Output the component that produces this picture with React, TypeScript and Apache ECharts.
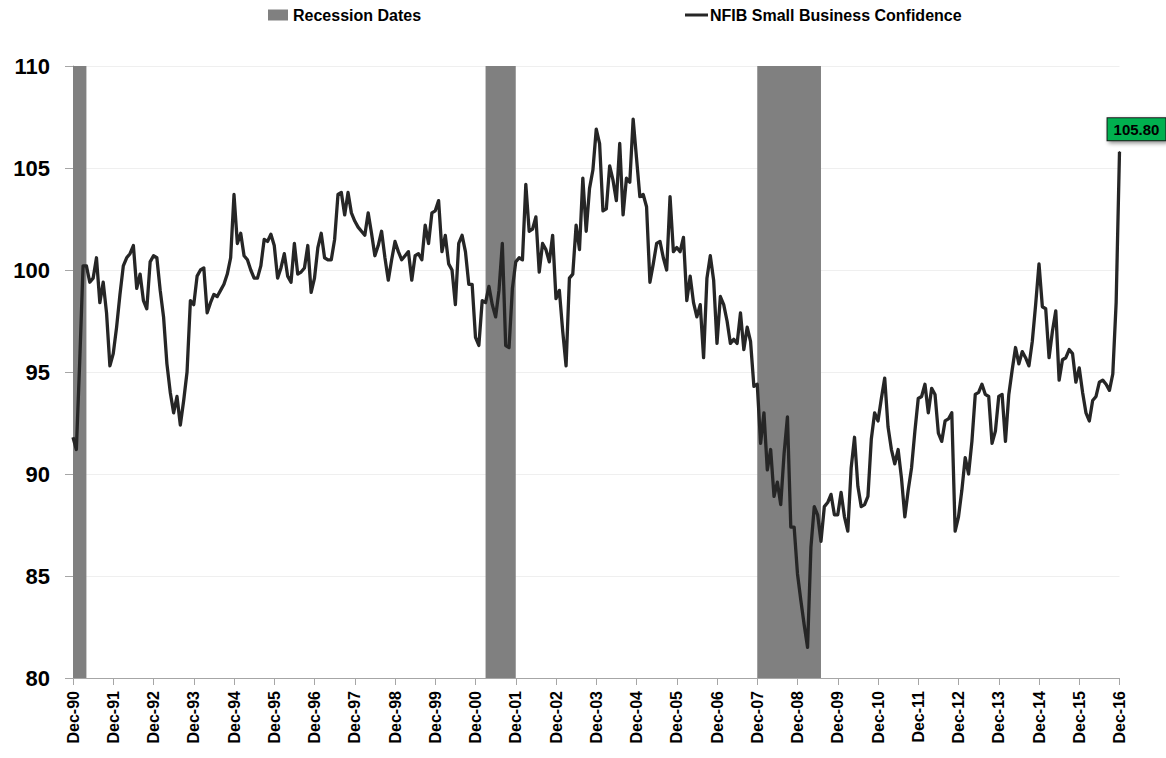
import React, { useEffect, useRef } from "react";
import * as echarts from "echarts";

// NFIB Small Business Confidence, monthly, Dec-90 .. Dec-16
const dec1990: number[] = [91.8];
const nfib1991to2000: number[] = [
  91.2, 95.5, 100.2, 100.2, 99.4, 99.6, 100.6, 98.4, 99.4, 97.9, 95.3, 95.9, // 1991
  97.2, 98.8, 100.2, 100.6, 100.8, 101.2, 99.1, 99.8, 98.5, 98.1, 100.4, 100.7, // 1992
  100.6, 99.0, 97.7, 95.4, 94.0, 93.0, 93.8, 92.4, 93.6, 95.0, 98.5, 98.3, // 1993
  99.7, 100.0, 100.1, 97.9, 98.4, 98.8, 98.7, 99.0, 99.3, 99.8, 100.6, 103.7, // 1994
  101.3, 101.8, 100.7, 100.5, 100.0, 99.6, 99.6, 100.2, 101.5, 101.4, 101.75, 101.2, // 1995
  99.6, 100.1, 100.8, 99.7, 99.4, 101.3, 99.8, 99.9, 100.1, 101.2, 98.9, 99.6, // 1996
  101.1, 101.8, 100.6, 100.5, 100.5, 101.5, 103.7, 103.8, 102.7, 103.8, 102.8, 102.4, // 1997
  102.1, 101.9, 101.7, 102.8, 101.8, 100.7, 101.2, 101.9, 100.6, 99.5, 100.5, 101.4, // 1998
  100.9, 100.5, 100.7, 100.9, 99.5, 100.7, 100.8, 100.5, 102.2, 101.3, 102.8, 102.9, // 1999
  103.4, 100.9, 101.7, 100.3, 100.0, 98.3, 101.3, 101.7, 100.9, 99.3, 99.3, 96.7, // 2000
];
const nfib2001to2008: number[] = [
  96.3, 98.5, 98.4, 99.2, 98.3, 97.7, 99.0, 101.3, 96.3, 96.2, 99.1, 100.4, // 2001
  100.6, 100.5, 104.2, 101.9, 102.0, 102.6, 99.9, 101.3, 101.0, 100.4, 101.7, 98.6, // 2002
  99.0, 97.0, 95.3, 99.6, 99.8, 102.2, 101.0, 104.5, 101.9, 104.0, 104.9, 106.9, // 2003
  106.2, 102.9, 103.0, 105.1, 104.4, 103.4, 106.2, 102.7, 104.5, 104.3, 107.4, 105.5, // 2004
  103.6, 103.7, 103.1, 99.4, 100.3, 101.3, 101.4, 100.6, 100.0, 103.6, 100.9, 101.1, // 2005
  100.9, 101.6, 98.5, 99.7, 98.4, 97.7, 98.3, 95.7, 99.6, 100.7, 99.5, 96.4, // 2006
  98.7, 98.3, 97.5, 96.4, 96.6, 96.4, 97.9, 96.1, 97.2, 96.5, 94.3, 94.4, // 2007
  91.5, 93.0, 90.2, 91.2, 88.9, 89.6, 88.5, 91.0, 92.8, 87.4, 87.4, 85.1, // 2008
];
const nfib2009to2016: number[] = [
  83.8, 82.6, 81.5, 86.4, 88.4, 88.0, 86.7, 88.4, 88.6, 89.0, 88.0, 88.0, // 2009
  89.1, 87.9, 87.2, 90.3, 91.8, 89.4, 88.4, 88.5, 88.9, 91.7, 93.0, 92.6, // 2010
  93.7, 94.7, 92.3, 91.2, 90.5, 91.2, 89.8, 87.9, 89.2, 90.3, 92.1, 93.7, // 2011
  93.8, 94.4, 93.0, 94.2, 93.9, 92.0, 91.6, 92.6, 92.7, 93.0, 87.2, 87.9, // 2012
  89.2, 90.8, 90.0, 91.6, 93.9, 94.0, 94.4, 93.9, 93.8, 91.5, 92.1, 93.8, // 2013
  93.9, 91.6, 93.9, 95.1, 96.2, 95.4, 96.0, 95.7, 95.3, 96.5, 98.3, 100.3, // 2014
  98.2, 98.1, 95.7, 97.0, 98.0, 94.6, 95.6, 95.7, 96.1, 95.9, 94.5, 95.2, // 2015
  94.0, 93.0, 92.6, 93.6, 93.8, 94.5, 94.6, 94.4, 94.1, 94.9, 98.4, 105.8, // 2016
];
const nfibValues: number[] = [...dec1990, ...nfib1991to2000, ...nfib2001to2008, ...nfib2009to2016];

const monthNames = ["Jan", "Feb", "Mar", "Apr", "May", "Jun", "Jul", "Aug", "Sep", "Oct", "Nov", "Dec"];
const firstYear = 1990;
const firstMonth = 11; // December
const categories: string[] = nfibValues.map((_, i) => {
  const m = firstMonth + i;
  const y = firstYear + Math.floor(m / 12);
  return `${monthNames[m % 12]}-${String(y % 100).padStart(2, "0")}`;
});

// NBER recessions (peak month, trough month)
const recessions: [string, string][] = [
  ["Jul-90", "Mar-91"],
  ["Mar-01", "Nov-01"],
  ["Dec-07", "Jun-09"],
];

const yTicks = { min: 80, max: 110, step: 5 };
const seriesNames = { recession: "Recession Dates", nfib: "NFIB Small Business Confidence" };

const FONT = "'Liberation Sans', Arial, sans-serif";

export default function App() {
  const ref = useRef<HTMLDivElement>(null);
  useEffect(() => {
    if (!ref.current) return;
    const chart = echarts.init(ref.current, undefined, { renderer: "svg" });
    const last = nfibValues.length - 1;
    const idx = (label: string) => categories.indexOf(label);
    const areas = recessions.map(([s, e]) => {
      const si = Math.max(idx(s), 0);
      const ei = Math.min(idx(e) + 1, last);
      return [{ xAxis: categories[si] }, { xAxis: categories[ei] }];
    });
    const lineData = nfibValues.map((v, i) =>
      i === last
        ? {
            value: v,
            symbol: "circle",
            symbolSize: 1,
            label: {
              show: true,
              position: "top",
              distance: 11,
              offset: [17, 0],
              formatter: (p: any) => Number(p.value).toFixed(2),
              backgroundColor: "#00b050",
              borderColor: "#1a1a1a",
              borderWidth: 1,
              padding: [4, 6, 3, 6],
              color: "#000",
              fontFamily: FONT,
              fontWeight: "bold",
              fontSize: 15,
              shadowBlur: 4,
              shadowColor: "rgba(0,0,0,0.45)",
              shadowOffsetX: 2,
              shadowOffsetY: 2,
            },
          }
        : v
    );
    chart.setOption({
      animation: false,
      backgroundColor: "#ffffff",
      textStyle: { fontFamily: FONT },
      legend: [
        {
          data: [seriesNames.recession],
          left: 268,
          top: 7,
          padding: 0,
          icon: "rect",
          itemWidth: 20,
          itemHeight: 11,
          itemStyle: { color: "#808080" },
          textStyle: { fontFamily: FONT, fontSize: 16, fontWeight: "bold", color: "#000" },
          selectedMode: false,
        },
        {
          data: [seriesNames.nfib],
          left: 685,
          top: 7,
          padding: 0,
          icon: "rect",
          itemWidth: 23,
          itemHeight: 3,
          itemStyle: { color: "#262626" },
          textStyle: { fontFamily: FONT, fontSize: 16, fontWeight: "bold", color: "#000", padding: [0, 0, 0, -3] },
          selectedMode: false,
        },
      ],
      grid: { left: 73, right: 46.5, top: 66, bottom: 80, containLabel: false },
      xAxis: {
        type: "category",
        data: categories,
        boundaryGap: false,
        axisLine: { show: true, lineStyle: { color: "#a6a6a6", width: 1 } },
        axisTick: { show: true, interval: 11, length: 7, lineStyle: { color: "#a6a6a6" } },
        axisLabel: {
          interval: 11,
          rotate: 90,
          margin: 13,
          fontFamily: FONT,
          fontSize: 16,
          fontWeight: "bold",
          color: "#000",
        },
        splitLine: { show: false },
      },
      yAxis: {
        type: "value",
        min: yTicks.min,
        max: yTicks.max,
        interval: yTicks.step,
        axisLine: { show: true, lineStyle: { color: "#a6a6a6" } },
        axisTick: { show: true, length: 8, lineStyle: { color: "#a6a6a6" } },
        axisLabel: { margin: 23, fontFamily: FONT, fontSize: 22, fontWeight: "bold", color: "#000" },
        splitLine: { show: true, lineStyle: { color: "#efefef", width: 1 } },
      },
      series: [
        {
          name: seriesNames.recession,
          type: "line",
          data: [],
          symbol: "none",
          itemStyle: { color: "#808080" },
          lineStyle: { color: "#808080" },
          markArea: {
            silent: true,
            itemStyle: { color: "#808080", opacity: 1 },
            data: areas,
          },
        },
        {
          name: seriesNames.nfib,
          type: "line",
          data: lineData,
          symbol: "none",
          showSymbol: true,
          showAllSymbol: true,
          itemStyle: { color: "#262626" },
          lineStyle: { color: "#262626", width: 3.3, join: "round" },
          emphasis: { disabled: true },
          z: 5,
        },
      ],
    });
    return () => chart.dispose();
  }, []);
  return (
    <div
      ref={ref}
      style={{ position: "fixed", left: 0, top: 0, width: 1166, height: 758, background: "#fff" }}
    />
  );
}
